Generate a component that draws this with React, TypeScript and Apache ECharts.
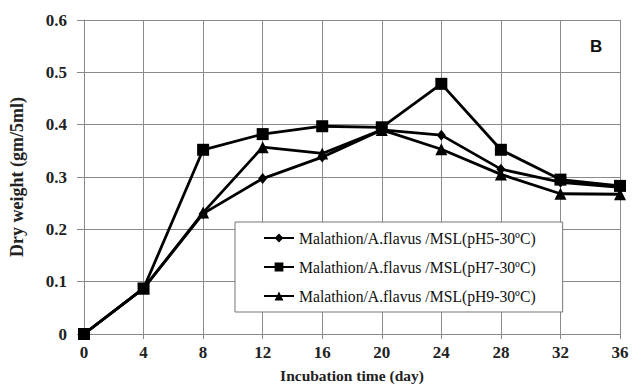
import React, { useEffect, useRef } from "react";
import * as echarts from "echarts";

const days = [0, 4, 8, 12, 16, 20, 24, 28, 32, 36];
const seriesNames = [
  "Malathion/A.flavus /MSL(pH5-30ºC)",
  "Malathion/A.flavus /MSL(pH7-30ºC)",
  "Malathion/A.flavus /MSL(pH9-30ºC)",
];
const pH5 = [0, 0.087, 0.23, 0.297, 0.338, 0.39, 0.38, 0.315, 0.29, 0.28];
const pH7 = [0, 0.087, 0.352, 0.382, 0.397, 0.395, 0.478, 0.352, 0.295, 0.283];
const pH9 = [0, 0.087, 0.232, 0.357, 0.345, 0.39, 0.353, 0.305, 0.268, 0.267];
const symbols = ["diamond", "rect", "triangle"];
const symbolSizes: any[] = [[9, 11], 12, 12];

export default function App() {
  const ref = useRef<HTMLDivElement>(null);
  useEffect(() => {
    document.body.style.margin = "0";
    if (!ref.current) return;
    const chart = echarts.init(ref.current, null, { renderer: "svg" });
    const serif = "Liberation Serif";
    const all = [pH5, pH7, pH9];
    chart.setOption({
      animation: false,
      backgroundColor: "#fff",
      grid: { left: 80, right: 21, top: 20, bottom: 52, containLabel: false },
      xAxis: {
        type: "value",
        min: 0,
        max: 36,
        interval: 4,
        name: "Incubation time (day)",
        nameLocation: "middle",
        nameGap: 33,
        nameTextStyle: { fontFamily: serif, fontWeight: "bold", fontSize: 15.5, color: "#222" },
        axisLine: { show: true, lineStyle: { color: "#888", width: 1 } },
        axisTick: { show: true, length: 5, lineStyle: { color: "#888" } },
        axisLabel: { fontFamily: serif, fontWeight: "bold", fontSize: 17, color: "#222", margin: 10 },
        splitLine: { show: true, lineStyle: { color: "#8a8a8a", width: 1 } },
      },
      yAxis: {
        type: "value",
        min: 0,
        max: 0.6,
        interval: 0.1,
        name: "Dry weight (gm/5ml)",
        nameLocation: "middle",
        nameGap: 58,
        nameTextStyle: { fontFamily: serif, fontWeight: "bold", fontSize: 18, color: "#222" },
        axisLine: { show: true, lineStyle: { color: "#888", width: 1 } },
        axisTick: { show: true, length: 7, lineStyle: { color: "#888" } },
        axisLabel: { fontFamily: serif, fontWeight: "bold", fontSize: 17, color: "#222", margin: 17 },
        splitLine: { show: true, lineStyle: { color: "#8a8a8a", width: 1 } },
      },
      legend: {
        orient: "vertical",
        left: 235,
        top: 222,
        itemWidth: 30,
        itemHeight: 11,
        itemGap: 13,
        padding: [8, 27, 8, 28],
        backgroundColor: "#fff",
        borderColor: "#777",
        borderWidth: 1,
        textStyle: { fontFamily: serif, fontSize: 15.7, color: "#111" },
        data: seriesNames,
      },
      graphic: [
        {
          type: "text",
          left: 590,
          top: 38,
          style: { text: "B", font: "bold 17px 'Liberation Sans'", fill: "#111" },
        },
      ],
      series: all.map((vals, i) => ({
        name: seriesNames[i],
        type: "line",
        data: days.map((d, j) => [d, vals[j]]),
        symbol: symbols[i],
        symbolSize: symbolSizes[i],
        showSymbol: true,
        lineStyle: { color: "#000", width: 2.8 },
        itemStyle: { color: "#000" },
        z: 3 + i,
      })),
    });
    return () => chart.dispose();
  }, []);
  return <div ref={ref} style={{ width: 641, height: 388 }} />;
}
